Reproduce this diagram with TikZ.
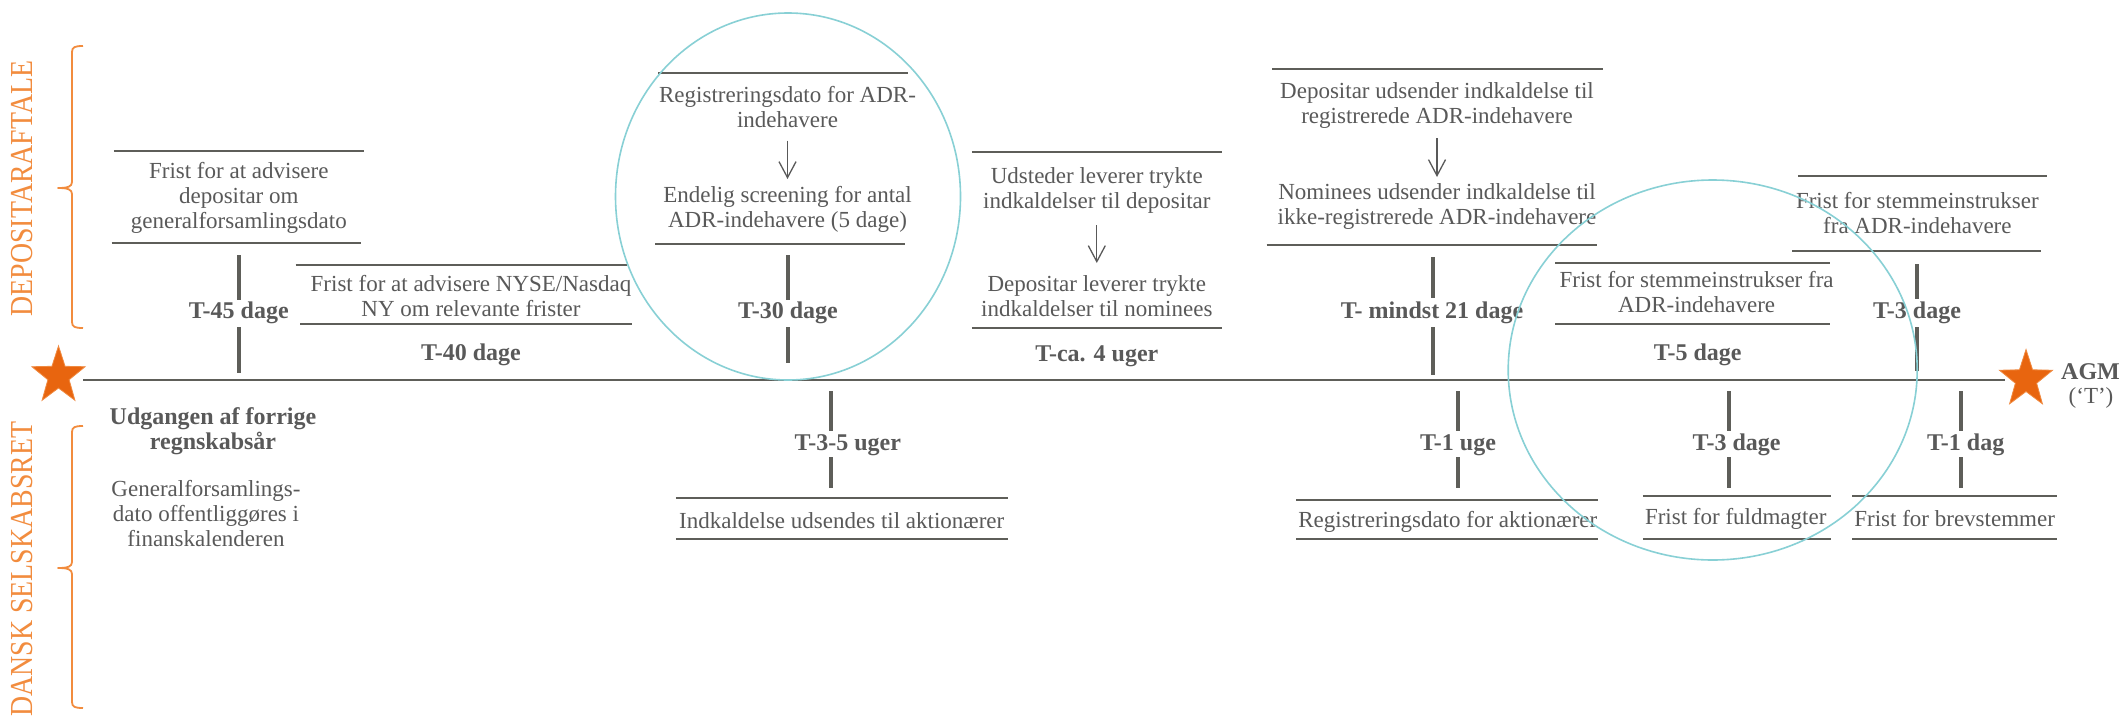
\documentclass[tikz,border=0pt]{standalone}
\usepackage{fontspec}
\setmainfont{Liberation Serif}
\newfontfamily\sidefont{Liberation Serif}[FakeStretch=0.87]
\usetikzlibrary{shapes.geometric,arrows.meta,calc}
\definecolor{txtgray}{HTML}{595959}
\definecolor{rulegray}{HTML}{5E5E59}
\definecolor{accent}{HTML}{F28C3E}
\definecolor{starfill}{HTML}{E8650F}
\definecolor{staredge}{HTML}{F08A40}
\definecolor{ringcol}{HTML}{88D0D5}

\tikzset{
  body/.style={text=txtgray, font=\fontsize{23}{25}\selectfont, align=center, inner sep=0pt},
  period/.style={text=txtgray, font=\fontsize{24}{25}\selectfont\bfseries, align=center, inner sep=0pt},
  rulel/.style={draw=rulegray, line width=2.5pt},
  tick/.style={draw=rulegray, line width=4pt},
  timeline/.style={draw=rulegray, line width=2.5pt},
  flow/.style={draw=txtgray, line width=1.3pt, -{Straight Barb[length=16pt,width=17pt]}},
  ringstyle/.style={ellipse, draw=ringcol, line width=1.6pt, inner sep=0pt},
  sidelabel/.style={text=accent, font=\sidefont\fontsize{32}{34}\selectfont, rotate=90, inner sep=0pt},
  sidebrace/.style={draw=accent, line width=1.8pt, line join=round},
  orangestar/.pic={
    \filldraw[fill=starfill, draw=staredge, line width=0.8pt]
      (0,-30) \foreach \a in {-90,-18,54,126,198} {
        -- ({0.93*30*cos(\a)},{30*sin(\a)})
        -- ({0.93*12*cos(\a+36)},{12*sin(\a+36)})
      } -- cycle;
  }
}

\begin{document}
\begin{tikzpicture}[x=1pt,y=-1pt]
\useasboundingbox (0,0) rectangle (2120,715);
\fill[white] (0,0) rectangle (2120,715);

% side captions with brackets
\node[sidelabel] (dep) at (22,188.5) {DEPOSITARAFTALE};
\node[sidelabel] (dsk) at (22,569) {DANSK SELSKABSRET};
\draw[sidebrace] (83,46) .. controls (75,46) and (72,47) .. (72,52) -- (72,182)
  .. controls (72,186.5) and (68,188) .. (58,188)
  .. controls (68,188) and (72,189.5) .. (72,194) -- (72,322)
  .. controls (72,327) and (75,328) .. (83,328);
\draw[sidebrace] (83,426) .. controls (75,426) and (72,427) .. (72,432) -- (72,562)
  .. controls (72,566.5) and (68,568) .. (58,568)
  .. controls (68,568) and (72,569.5) .. (72,574) -- (72,702)
  .. controls (72,707) and (75,708) .. (83,708);

% main time axis
\coordinate (tstart) at (83,380);
\coordinate (tend) at (2005,380);
\draw[timeline] (tstart) -- (tend);
\pic at (58.5,376) {orangestar};
\pic at (2026,379.5) {orangestar};
\node[period] (agm) at (2090.5,372) {AGM};
\node[body] (agmT) at (2091,398) {(‘T’)};

% ---------- upper side: depositary agreement ----------
% T-45
\node[body] (b1) at (238.8,198) {Frist for at advisere\\depositar om\\generalforsamlingsdato};
\draw[rulel] (113.8,151) -- (363.8,151);
\draw[rulel] (111.6,243) -- (360.7,243);
\node[period] (p45) at (238.8,313) {T-45 dage};
\draw[tick] (238.8,255) -- (238.8,300);
\draw[tick] (238.8,327) -- (238.8,373);

% T-40
\node[body] (b2) at (471,296) {Frist for at advisere NYSE/Nasdaq\\NY om relevante frister};
\draw[rulel] (295.5,265) -- (627.2,265);
\draw[rulel] (300,324) -- (631.7,324);
\node[period] (p40) at (471,355) {T-40 dage};

% T-30
\draw[rulel] (658,73) -- (908,73);
\node[body] (b3a) at (787.5,107.5) {Registreringsdato for ADR-\\indehavere};
\node[body] (b3b) at (787.5,209) {Endelig screening for antal\\ADR-indehavere (5 dage)};
\draw[flow] ([yshift=-33pt]b3a.center) -- ([yshift=30pt]b3b.center);
\draw[rulel] (655,244) -- (905,244);
\node[period] (p30) at (788,313) {T-30 dage};
\draw[tick] (788,255) -- (788,300);
\draw[tick] (788,327) -- (788,363);

% T-ca. 4 uger
\draw[rulel] (971.9,152) -- (1221.8,152);
\node[body] (b4a) at (1096.8,190) {Udsteder leverer trykte\\indkaldelser til depositar};
\node[body] (b4b) at (1096.8,296.5) {Depositar leverer trykte\\indkaldelser til nominees};
\draw[flow] ([yshift=-35pt]b4a.center) -- ([yshift=33.5pt]b4b.center);
\draw[rulel] (971.9,328) -- (1221.8,328);
\node[period] (p4u) at (1096.8,356) {T-ca. 4 uger};

% T- mindst 21 dage
\draw[rulel] (1272.2,69) -- (1603.4,69);
\node[body] (b5a) at (1437,105.5) {Depositar udsender indkaldelse til\\registrerede ADR-indehavere};
\node[body] (b5b) at (1437,206.5) {Nominees udsender indkaldelse til\\ikke-registrerede ADR-indehavere};
\draw[flow] ([yshift=-32.5pt]b5a.center) -- ([yshift=29.5pt]b5b.center);
\draw[rulel] (1266.6,245) -- (1596.8,245);
\node[period] (p21) at (1432,313) {T- mindst 21 dage};
\draw[tick] (1433,257) -- (1433,298);
\draw[tick] (1433,327) -- (1433,375);

% T-5 dage
\node[body] (b6) at (1696.6,292.5) {Frist for stemmeinstrukser fra\\ADR-indehavere};
\draw[rulel] (1555,263) -- (1829.8,263);
\draw[rulel] (1555,324) -- (1829.8,324);
\node[period] (p5) at (1697.7,355) {T-5 dage};

% T-3 dage (upper)
\node[body] (b7) at (1917.4,213.5) {Frist for stemmeinstrukser\\fra ADR-indehavere};
\draw[rulel] (1798,176) -- (2047.2,176);
\draw[rulel] (1792,251) -- (2040.6,251);
\node[period] (p3u) at (1917,313) {T-3 dage};
\draw[tick] (1917,264) -- (1917,299);
\draw[tick] (1917,327) -- (1917,371);

% ---------- lower side: Danish company law ----------
\node[period] (fy) at (213,431.5) {Udgangen af forrige\\regnskabsår};
\node[body] (fyt) at (206,514) {Generalforsamlings-\\dato offentliggøres i\\finanskalenderen};

% T-3-5 uger
\node[period] (p35) at (847.8,445) {T-3-5 uger};
\draw[tick] (830.8,391) -- (830.8,431);
\draw[tick] (830.8,457) -- (830.8,488);
\draw[rulel] (675.9,498) -- (1007.6,498);
\node[body] (c1) at (841.7,521) {Indkaldelse udsendes til aktionærer};
\draw[rulel] (675.9,539) -- (1007.6,539);

% T-1 uge
\node[period] (p1u) at (1458,445) {T-1 uge};
\draw[tick] (1457.5,391) -- (1457.5,431);
\draw[tick] (1457.5,457) -- (1457.5,488);
\draw[rulel] (1296,500) -- (1597.9,500);
\node[body] (c2) at (1447.8,522) {Registreringsdato for aktionærer};
\draw[rulel] (1296,539) -- (1597.9,539);

% T-3 dage (lower)
\node[period] (p3l) at (1736.6,445) {T-3 dage};
\draw[tick] (1728.8,391) -- (1728.8,431);
\draw[tick] (1728.8,457) -- (1728.8,488);
\draw[rulel] (1642.8,496) -- (1830.9,496);
\node[body] (c3) at (1735.7,519) {Frist for fuldmagter};
\draw[rulel] (1642.8,539) -- (1830.9,539);

% T-1 dag
\node[period] (p1d) at (1965.7,445) {T-1 dag};
\draw[tick] (1960.7,391) -- (1960.7,431);
\draw[tick] (1960.7,457) -- (1960.7,488);
\draw[rulel] (1852,496) -- (2057.2,496);
\node[body] (c4) at (1954.6,519) {Frist for brevstemmer};
\draw[rulel] (1852,539) -- (2057.2,539);

% highlight rings
\node[ringstyle, minimum width=345pt, minimum height=367pt] (ring1) at (788,196.5) {};
\node[ringstyle, minimum width=409pt, minimum height=380pt] (ring2) at (1712.7,370) {};
\end{tikzpicture}
\end{document}
